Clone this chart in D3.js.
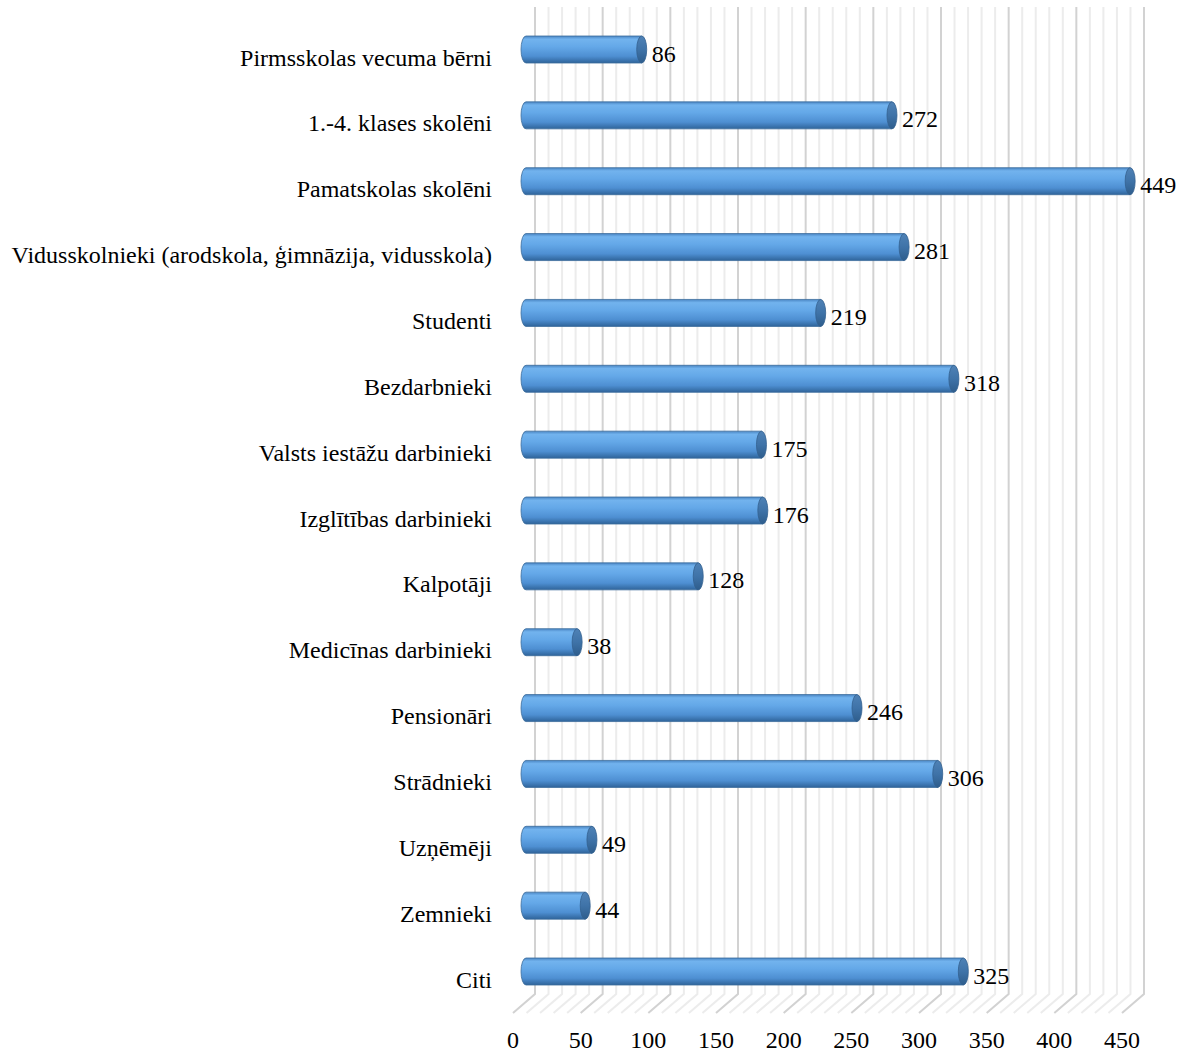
<!DOCTYPE html>
<html>
<head>
<meta charset="utf-8">
<script src="https://cdn.jsdelivr.net/npm/d3@7"></script>
<style>
  body { margin: 0; background: #fff; }
  text { font-family: "Liberation Serif", "Times New Roman", serif; }
</style>
</head>
<body>
<div id="chart"></div>
<script>
const categories = [
    "Pirmsskolas vecuma bērni",
    "1.-4. klases skolēni",
    "Pamatskolas skolēni",
    "Vidusskolnieki (arodskola, ģimnāzija, vidusskola)",
    "Studenti",
    "Bezdarbnieki",
    "Valsts iestāžu darbinieki",
    "Izglītības darbinieki",
    "Kalpotāji",
    "Medicīnas darbinieki",
    "Pensionāri",
    "Strādnieki",
    "Uzņēmēji",
    "Zemnieki",
    "Citi"
];
const values = [86, 272, 449, 281, 219, 318, 175, 176, 128, 38, 246, 306, 49, 44, 325];
const tickValues = [0, 50, 100, 150, 200, 250, 300, 350, 400, 450];

const width = 1188, height = 1053;
const wallTop = 7, wallBottom = 994;
const depthX = -22, depthY = 19;   // floor depth, back wall -> front edge
const fontSize = "24px";

const svg = d3.select("#chart")
    .append("svg")
    .attr("width", width)
    .attr("height", height);

// back wall scale, front edge, and bar scale (bars sit mid-depth)
const xBack = d3.scaleLinear().domain([0, 450]).range([535, 1144]);
const xFront = v => xBack(v) + depthX;
const xBar = d3.scaleLinear().domain([0, 450]).range([526, 1131.5]);

const y = d3.scalePoint()
    .domain(categories)
    .range([49.5, 971.5]);

// gridlines: wall verticals and floor diagonals every 10
const gridVals = d3.range(0, 451, 10);
const grid = svg.append("g");
gridVals.forEach(v => {
    const major = v % 50 === 0;
    grid.append("path")
        .attr("d", `M${xBack(v)},${wallTop} L${xBack(v)},${wallBottom} L${xFront(v)},${wallBottom + depthY}`)
        .attr("fill", "none")
        .attr("stroke", major ? "#d2d2d2" : "#ececec")
        .attr("stroke-width", 2);
});

// cylinder gradients
const defs = svg.append("defs");
const body = defs.append("linearGradient")
    .attr("id", "cyl-body")
    .attr("x1", "0").attr("y1", "0").attr("x2", "0").attr("y2", "1");
[["0%", "#4a86c4"], ["12%", "#72b3ee"], ["40%", "#64a8e8"], ["75%", "#4e8fd2"], ["100%", "#2f649a"]]
    .forEach(s => body.append("stop").attr("offset", s[0]).attr("stop-color", s[1]));
const cap = defs.append("linearGradient")
    .attr("id", "cyl-cap")
    .attr("x1", "0").attr("y1", "0").attr("x2", "0").attr("y2", "1");
[["0%", "#4f82b6"], ["50%", "#3f73a8"], ["100%", "#2e5d8c"]]
    .forEach(s => cap.append("stop").attr("offset", s[0]).attr("stop-color", s[1]));

const barH = 27, rx = 5, ry = barH / 2;

const bars = svg.append("g")
    .selectAll("g")
    .data(categories)
    .join("g");

bars.append("path")
    .attr("d", (d, i) => {
        const x0 = xBar(0), x1 = xBar(values[i]), cy = y(d);
        return `M${x0},${cy - ry} L${x1},${cy - ry} L${x1},${cy + ry} L${x0},${cy + ry}` +
            ` A${rx},${ry} 0 0 1 ${x0},${cy - ry} Z`;
    })
    .attr("fill", "url(#cyl-body)")
    .attr("stroke", "#3b6c9c")
    .attr("stroke-width", 0.8);

bars.append("ellipse")
    .attr("cx", (d, i) => xBar(values[i]))
    .attr("cy", d => y(d))
    .attr("rx", rx)
    .attr("ry", ry)
    .attr("fill", "url(#cyl-cap)")
    .attr("stroke", "#34618f")
    .attr("stroke-width", 0.8);

// value labels
bars.append("text")
    .attr("x", (d, i) => xBar(values[i]) + 10)
    .attr("y", d => y(d) + 4)
    .attr("dominant-baseline", "central")
    .style("font-size", fontSize)
    .style("fill", "#000")
    .text((d, i) => values[i]);

// category labels
svg.append("g")
    .selectAll("text")
    .data(categories)
    .join("text")
    .attr("x", 492)
    .attr("y", d => y(d) + 8)
    .attr("text-anchor", "end")
    .attr("dominant-baseline", "central")
    .style("font-size", fontSize)
    .style("fill", "#000")
    .text(d => d);

// x tick labels along the front floor edge
svg.append("g")
    .selectAll("text")
    .data(tickValues)
    .join("text")
    .attr("x", d => xFront(d))
    .attr("y", 1040)
    .attr("text-anchor", "middle")
    .attr("dominant-baseline", "central")
    .style("font-size", fontSize)
    .style("fill", "#000")
    .text(d => d);
</script>
</body>
</html>
